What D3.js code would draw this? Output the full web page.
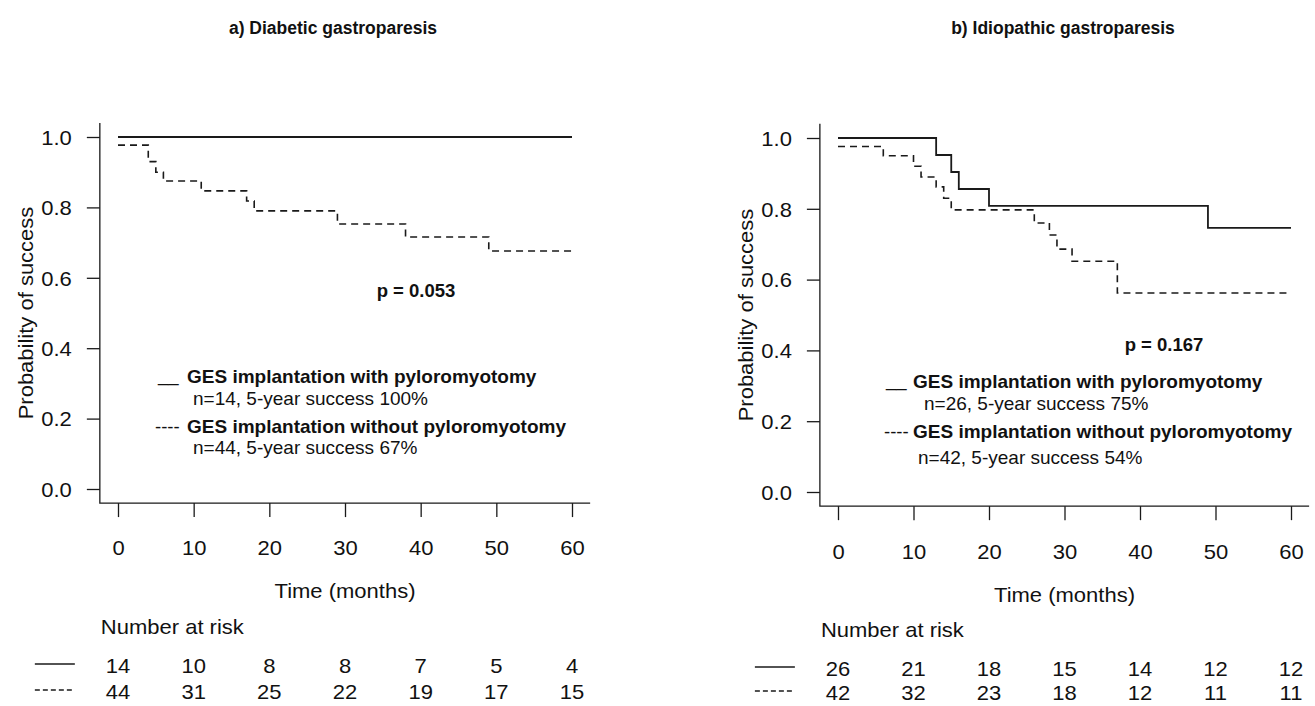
<!DOCTYPE html>
<html>
<head>
<meta charset="utf-8">
<script src="https://cdn.jsdelivr.net/npm/d3@7"></script>
<style>
  body { margin: 0; background: #fff; }
  svg { display: block; }
  text { font-family: "Liberation Sans", Arial, Helvetica, sans-serif; fill: #111; }
</style>
</head>
<body>
<svg id="chart" width="1315" height="706"></svg>
<script>
// tick values
const timeTicks = [0, 10, 20, 30, 40, 50, 60];
const probTicks = [0, 0.2, 0.4, 0.6, 0.8, 1.0];

// a) diabetic - KM steps (time in months, survival)
const diabWithTime = [0];
const diabWithSurv = [1.0];
const diabWithoutTime = [0, 4, 5, 6, 11, 17, 18, 29, 38, 49];
const diabWithoutSurv = [0.977, 0.93, 0.90, 0.875, 0.847, 0.818, 0.79, 0.753, 0.716, 0.676];
const diabRiskWith = [14, 10, 8, 8, 7, 5, 4];
const diabRiskWithout = [44, 31, 25, 22, 19, 17, 15];

// b) idiopathic
const idioWithTime = [0, 13, 15, 16, 20, 49];
const idioWithSurv = [1.0, 0.952, 0.904, 0.856, 0.808, 0.746];
const idioWithoutTime = [0, 6, 10, 11, 13, 14, 15, 26, 28, 29, 31, 37];
const idioWithoutSurv = [0.976, 0.95, 0.92, 0.89, 0.862, 0.83, 0.797, 0.76, 0.726, 0.686, 0.652, 0.562];
const idioRiskWith = [26, 21, 18, 15, 14, 12, 12];
const idioRiskWithout = [42, 32, 23, 18, 12, 11, 11];

const endTime = 60;
const SX = 1.1;         // horizontal stretch of the axis lettering
const AXIS_FS = 20;
const INK = "#1a1a1a";

const svg = d3.select("#chart");

function label(g, x, y, str, o = {}) {
  const rot = o.rotate ? ` rotate(${o.rotate})` : "";
  return g.append("text")
    .attr("transform", `translate(${x},${y})${rot} scale(${o.sx || 1},1)`)
    .attr("text-anchor", o.anchor || "start")
    .attr("font-size", o.size || AXIS_FS)
    .attr("font-weight", o.weight || "normal")
    .text(str);
}

const panels = [
  {
    title: "a) Diabetic gastroparesis", titleX: 333,
    xr: [118, 572], yr: [489, 137], labOff: 52,
    withT: diabWithTime, withS: diabWithSurv,
    woT: diabWithoutTime, woS: diabWithoutSurv,
    riskWith: diabRiskWith, riskWo: diabRiskWithout,
    pText: "p = 0.053", pX: 416, pY: 297,
    leg: { lineX: 158, dashX: 155, boldX: 187, subX: 193, y1: 383, y2: 405, y3: 433, y4: 454 },
    legSub: ["n=14, 5-year success 100%", "n=44, 5-year success 67%"],
    timeY: 598, numY: 634, row1: 673, row2: 699
  },
  {
    title: "b) Idiopathic gastroparesis", titleX: 1063,
    xr: [838, 1291], yr: [492, 138], labOff: 53,
    withT: idioWithTime, withS: idioWithSurv,
    woT: idioWithoutTime, woS: idioWithoutSurv,
    riskWith: idioRiskWith, riskWo: idioRiskWithout,
    pText: "p = 0.167", pX: 1164, pY: 351,
    leg: { lineX: 886, dashX: 884, boldX: 913, subX: 924, subX2: 918, y1: 388, y2: 410, y3: 438, y4: 464 },
    legSub: ["n=26, 5-year success 75%", "n=42, 5-year success 54%"],
    timeY: 602, numY: 637, row1: 676, row2: 700
  }
];

panels.forEach(p => {
  const g = svg.append("g");
  const x = d3.scaleLinear().domain([0, 60]).range(p.xr);
  const y = d3.scaleLinear().domain([0, 1]).range(p.yr);
  const x0 = x(-2.4), x1 = x(62.4), yTop = y(1.04), yBot = y(-0.04);

  // title
  label(g, p.titleX, 34, p.title, { anchor: "middle", weight: "bold", size: 17.5 });

  // L shaped frame
  g.append("path")
    .attr("d", `M${x0},${yTop}V${yBot}H${x1}`)
    .attr("fill", "none").attr("stroke", INK).attr("stroke-width", 1.3);

  // y axis
  const ya = g.append("g")
    .attr("transform", `translate(${x0},0)`)
    .call(d3.axisLeft(y).tickValues(probTicks).tickFormat(d3.format(".1f")).tickSize(13).tickPadding(15));
  ya.select(".domain").remove();
  ya.selectAll("line").attr("stroke", INK).attr("stroke-width", 1.3);
  ya.selectAll("text")
    .attr("x", -28 / SX).attr("dy", "0.36em")
    .attr("transform", `scale(${SX},1)`)
    .attr("font-size", AXIS_FS).attr("font-family", null).attr("fill", "#111");

  // x axis
  const xa = g.append("g")
    .attr("transform", `translate(0,${yBot})`)
    .call(d3.axisBottom(x).tickValues(timeTicks).tickSize(14));
  xa.select(".domain").remove();
  xa.selectAll("line").attr("stroke", INK).attr("stroke-width", 1.3);
  xa.selectAll("text")
    .attr("y", p.labOff).attr("dy", null)
    .attr("transform", `scale(${SX},1)`)
    .attr("font-size", AXIS_FS).attr("font-family", null).attr("fill", "#111");

  // axis titles
  label(g, x(30), p.timeY, "Time (months)", { anchor: "middle", sx: SX });
  label(g, x0 - 67, y(0.5), "Probability of success", { anchor: "middle", rotate: -90, sx: SX });

  // KM step curves
  const line = d3.line().x(d => x(d[0])).y(d => y(d[1])).curve(d3.curveStepAfter);
  const steps = (t, s) => t.map((v, i) => [v, s[i]]).concat([[endTime, s[s.length - 1]]]);

  g.append("path")
    .attr("d", line(steps(p.woT, p.woS)))
    .attr("fill", "none").attr("stroke", INK).attr("stroke-width", 1.6)
    .attr("stroke-dasharray", "7,5");
  g.append("path")
    .attr("d", line(steps(p.withT, p.withS)))
    .attr("fill", "none").attr("stroke", INK).attr("stroke-width", 1.8);

  // p value
  label(g, p.pX, p.pY, p.pText, { anchor: "middle", weight: "bold", size: 18.5 });

  // legend
  const L = p.leg;
  label(g, L.lineX, L.y1 - 2, "__", { size: 18.5 });
  label(g, L.boldX, L.y1, "GES implantation with pyloromyotomy", { weight: "bold", size: 19 });
  label(g, L.subX, L.y2, p.legSub[0], { size: 19 });
  label(g, L.dashX, L.y3, "----", { size: 18.5 });
  label(g, L.boldX, L.y3, "GES implantation without pyloromyotomy", { weight: "bold", size: 19 });
  label(g, L.subX2 || L.subX, L.y4, p.legSub[1], { size: 19 });

  // number at risk table
  label(g, x0 + 1, p.numY, "Number at risk", { sx: SX });
  g.append("line")
    .attr("x1", x0 - 65).attr("x2", x0 - 25)
    .attr("y1", p.row1 - 9).attr("y2", p.row1 - 9)
    .attr("stroke", INK).attr("stroke-width", 1.4);
  g.append("line")
    .attr("x1", x0 - 65).attr("x2", x0 - 25)
    .attr("y1", p.row2 - 9).attr("y2", p.row2 - 9)
    .attr("stroke", INK).attr("stroke-width", 1.4)
    .attr("stroke-dasharray", "5,3");

  timeTicks.forEach((t, i) => {
    label(g, x(t), p.row1, p.riskWith[i], { anchor: "middle", sx: SX });
    label(g, x(t), p.row2, p.riskWo[i], { anchor: "middle", sx: SX });
  });
});
</script>
</body>
</html>
